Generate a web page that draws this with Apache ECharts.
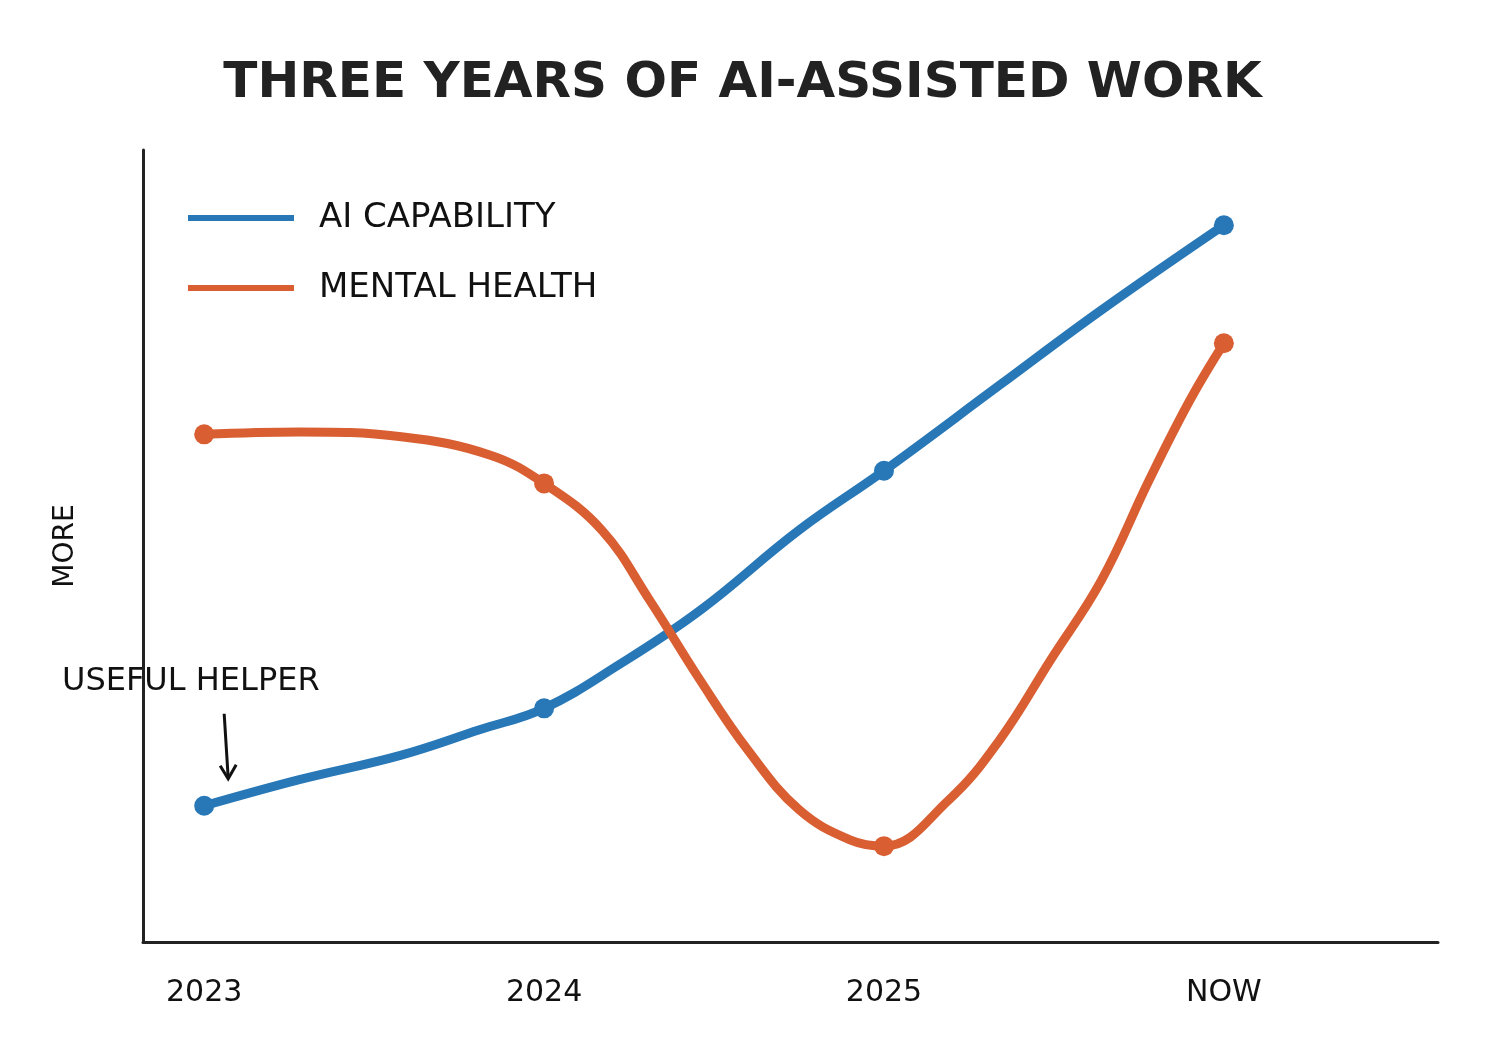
<!DOCTYPE html>
<html><head><meta charset="utf-8">
<script src="https://cdn.jsdelivr.net/npm/echarts@6/dist/echarts.min.js"></script>
<style>html,body{margin:0;background:#fff}#c{width:1485px;height:1063px}</style>
</head><body><div id="c"></div>
<script>
const categories = ['2023','2024','2025','NOW'];
const aiCapability = [[0,17.2],[0.28,20.5],[0.58,23.6],[0.81,26.8],[1,29.5],[1.22,35],[1.46,41.9],[1.75,52],[2,59.5],[2.34,70.3],[2.64,79.8],[3,90.5]];
const mentalHealth = [[0,64.1],[0.28,64.4],[0.58,63.8],[0.84,61.5],[1,57.9],[1.17,52],[1.31,43.2],[1.46,33],[1.6,24.2],[1.75,16.7],[1.9,12.9],[2,12.1],[2.19,17.9],[2.34,25.5],[2.49,35.6],[2.64,45.7],[2.78,58.3],[2.9,68.4],[3,75.6]];
const font = 'DejaVu Sans';
function mk(d){return d.map(p=>({value:p,symbol:Number.isInteger(p[0])?'circle':'none'}));}
const chart = echarts.init(document.getElementById('c'));
chart.setOption({
  animation:false,
  title:{text:'THREE YEARS OF AI-ASSISTED WORK',left:'center',top:54,textStyle:{fontFamily:font,fontSize:50,fontWeight:'bold',color:'#222'}},
  legend:{left:183,top:196,orient:'vertical',itemGap:36,itemWidth:106,itemHeight:30,icon:'path://M0,13 L106,13 L106,19 L0,19 Z',textStyle:{fontFamily:font,fontSize:34,color:'#111',padding:[0,0,0,20]}},
  grid:{left:143,right:47,top:150,bottom:121},
  xAxis:{type:'value',min:-0.18,max:3.63,splitLine:{show:false},
    axisLine:{show:true,onZero:false,lineStyle:{color:'#222',width:3}},axisTick:{show:false},
    axisLabel:{customValues:[0,1,2,3],formatter:v=>categories[Math.round(v)],fontFamily:font,fontSize:30,color:'#111',margin:36}},
  yAxis:{type:'value',min:0,max:100,name:'MORE',nameLocation:'middle',nameGap:63,nameRotate:90,
    nameTextStyle:{fontFamily:font,fontSize:28,color:'#111'},
    axisLine:{show:true,onZero:false,lineStyle:{color:'#222',width:3}},axisTick:{show:false},axisLabel:{show:false},splitLine:{show:false}},
  series:[
    {name:'AI CAPABILITY',type:'line',smooth:0.4,data:mk(aiCapability),symbolSize:20,itemStyle:{color:'#2878b8'},lineStyle:{width:9,color:'#2878b8'}},
    {name:'MENTAL HEALTH',type:'line',smooth:0.4,data:mk(mentalHealth),symbolSize:20,itemStyle:{color:'#d95f33'},lineStyle:{width:9,color:'#d95f33'}}
  ]
});
const p0 = chart.convertToPixel({gridIndex:0},[0,aiCapability[0][1]]);
chart.setOption({graphic:[
  {type:'text',left:62,top:666,style:{text:'USEFUL HELPER',font:'32px '+font,fill:'#111'}},
  {type:'polyline',shape:{points:[[p0[0]+20,p0[1]-92],[p0[0]+24,p0[1]-28]]},style:{stroke:'#111',lineWidth:3,fill:null}},
  {type:'polyline',shape:{points:[[p0[0]+16,p0[1]-40],[p0[0]+24,p0[1]-27],[p0[0]+32,p0[1]-41]]},style:{stroke:'#111',lineWidth:3,fill:null}}
]});
</script></body></html>
